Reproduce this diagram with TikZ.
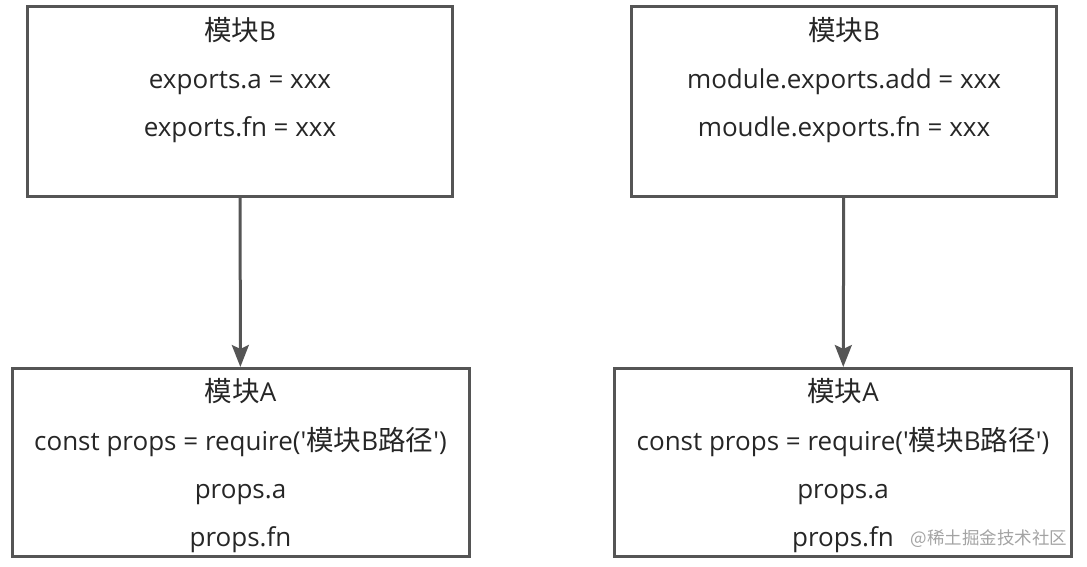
\documentclass[tikz,border=0pt]{standalone}
\usepackage{fontspec}
\setmainfont{Open Sans}
\newfontfamily\cjk[Scale=1.06]{Noto Sans CJK SC}
\newfontfamily\cjkmark{Noto Sans CJK SC}
\usetikzlibrary{arrows.meta,positioning}
\definecolor{edge}{HTML}{555555}
\definecolor{wmark}{HTML}{A3A3A3}
\tikzset{
  modbox/.style  = {draw=edge, line width=3pt, inner sep=0pt,
                    minimum width=425pt, minimum height=190pt},
  usebox/.style  = {modbox, minimum width=457pt, minimum height=188pt},
  code/.style    = {align=center, font=\fontsize{26}{48.2}\selectfont,
                    text=black!85, anchor=north, inner sep=0pt},
  arr/.style     = {-{Stealth[length=22pt, width=17pt, inset=4pt]}, draw=edge, line width=3pt},
}
\newcommand{\req}{const props = require(\textquotesingle{\cjk 模块}B{\cjk 路径}\textquotesingle)}

\begin{document}
\begin{tikzpicture}[x=1pt, y=-1pt]
  \useasboundingbox (0,0) rectangle (1087,566);

  % exporting side
  \node[modbox] (bL) at (240,101.5) {};
  \node[modbox] (bR) at (844,101.5) {};
  \node[code] (tL) at ([yshift=-12pt]bL.north) {{\cjk 模块}B\\exports.a = xxx\\exports.fn = xxx};
  \node[code] (tR) at ([yshift=-12pt]bR.north) {{\cjk 模块}B\\module.exports.add = xxx\\moudle.exports.fn = xxx};

  % requiring side
  \node[usebox] (aL) at (240.5,462.5) {};
  \node[usebox] (aR) at (843,462.5) {};
  \node[code] (uL) at ([yshift=-11.5pt]aL.north) {{\cjk 模块}A\\\req\\props.a\\props.fn};
  \node[code] (uR) at ([yshift=-11.5pt]aR.north) {{\cjk 模块}A\\\req\\props.a\\props.fn};

  \draw[arr] (bL) -- (aL);
  \draw[arr] (bR) -- (aR);

  \node[font=\cjkmark\fontsize{17.5}{19}\selectfont, text=wmark] (wm) at (989,539) {@稀土掘金技术社区};
\end{tikzpicture}
\end{document}
